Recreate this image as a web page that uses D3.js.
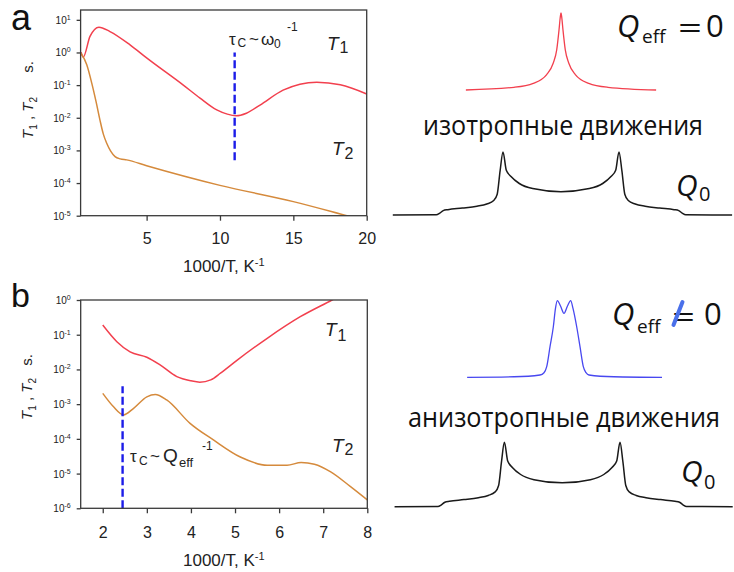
<!DOCTYPE html>
<html>
<head>
<meta charset="utf-8">
<script src="https://cdn.jsdelivr.net/npm/d3@7"></script>
<style>
  body { margin: 0; background: #fff; }
  svg { display: block; }
</style>
</head>
<body>
<svg id="fig" width="734" height="572"></svg>
<script>
// ---- Panel a: relaxation times vs 1000/T (isotropic motion) ----
const aT1X = [0.53, 0.68, 1.14, 1.75, 2.5, 3.87, 5.0, 7.5, 8.64, 9.78, 10.5, 11.1, 11.8, 12.73, 14.3, 16.6, 18.2, 20];
const aT1  = [1.02, 0.72, 3.1, 5.97, 4.37, 1.71, 0.68, 0.1, 0.04, 0.0174, 0.0129, 0.0115, 0.0138, 0.0245, 0.07, 0.123, 0.102, 0.0537];
const aT2X = [0.53, 0.92, 1.26, 1.55, 1.82, 2.05, 2.28, 2.55, 2.85, 3.2, 3.64, 5, 10, 15, 18.65, 20];
const aT2  = [0.95, 0.42, 0.115, 0.0316, 0.0085, 0.00316, 0.00166, 0.00095, 0.000646, 0.00055, 0.000513, 0.000339, 8.5e-5, 2.7e-5, 1.0e-5, 6.9e-6];
const aXTicks = [5, 10, 15, 20];
const aYExp = [1, 0, -1, -2, -3, -4, -5];
const aMarkX = 11;
const aMarkY = [5e-4, 1];

// ---- Panel b: relaxation times vs 1000/T (anisotropic motion) ----
const bT1X = [2.0, 2.32, 2.62, 3.0, 3.3, 3.68, 4.0, 4.2, 4.45, 4.67, 5.05, 5.73, 6.48, 7.2, 7.5];
const bT1  = [0.19, 0.063, 0.032, 0.0224, 0.0135, 0.0062, 0.0047, 0.0043, 0.005, 0.0078, 0.0186, 0.079, 0.33, 1.0, 1.6];
const bT2X = [2.0, 2.24, 2.47, 2.7, 3.0, 3.19, 3.45, 3.98, 4.51, 5.12, 5.73, 6.18, 6.5, 6.8, 7.17, 7.62, 8.0];
const bT2  = [2.04e-3, 8.5e-4, 4.9e-4, 7.6e-4, 1.62e-3, 1.9e-3, 1.32e-3, 2.8e-4, 9.3e-5, 3.0e-5, 1.74e-5, 1.74e-5, 2.09e-5, 1.86e-5, 1.12e-5, 4.2e-6, 1.74e-6];
const bXTicks = [2, 3, 4, 5, 6, 7, 8];
const bYExp = [0, -1, -2, -3, -4, -5, -6];
const bMarkX = 2.45;
const bMarkY = [1e-6, 3.3e-3];

// ---- Line shapes (frequency offset in units of the horn splitting, relative intensity) ----
const isoFreq = [-1.64, -0.81, -0.478, -0.247, -0.133, -0.074, -0.034, -0.012, 0, 0.012, 0.034, 0.074, 0.133, 0.247, 0.478, 0.81, 1.64];
const isoAmp  = [0, 0.035, 0.087, 0.2, 0.35, 0.52, 0.78, 0.95, 1.0, 0.95, 0.78, 0.52, 0.35, 0.2, 0.087, 0.035, 0];

const anisoFreq = [-1.67, -0.862, -0.414, -0.345, -0.298, -0.241, -0.184, -0.147, -0.115, -0.06, 0, 0.06, 0.115, 0.155, 0.219, 0.276, 0.333, 0.38, 0.43, 0.86, 1.69];
const anisoAmp  = [0, 0.007, 0.03, 0.06, 0.14, 0.40, 0.66, 0.9, 1.0, 0.93, 0.835, 0.93, 1.0, 0.9, 0.66, 0.40, 0.14, 0.06, 0.03, 0.007, 0];

const pakeFreq = [-2.9, -2.15, -2.09, -2.03, -1.95, -1.7, -1.45, -1.28, -1.16, -1.1, -1.05, -1.0, -0.943, -0.862, -0.719, -0.488, 0,
                  0.488, 0.719, 0.862, 0.943, 1.0, 1.05, 1.1, 1.16, 1.28, 1.45, 1.7, 1.95, 2.03, 2.09, 2.15, 2.95];
const pakeAmp  = [0, 0.003, 0.03, 0.07, 0.085, 0.11, 0.14, 0.175, 0.23, 0.33, 0.7, 1.0, 0.71, 0.61, 0.5, 0.42, 0.37,
                  0.42, 0.5, 0.61, 0.71, 1.0, 0.7, 0.33, 0.23, 0.175, 0.14, 0.11, 0.085, 0.07, 0.03, 0.003, 0];

const RED = "#f2404e", ORANGE = "#d58a3c", DASH_BLUE = "#1c1ce8", SPEC_BLUE = "#4848f0", INK = "#1a1a1a";
const AXIS_FONT = "'Liberation Sans', Arial, sans-serif";
const LABEL_FONT = "'Open Sans', 'Noto Sans', sans-serif";

const svg = d3.select("#fig");
const zip = (xs, ys) => xs.map((x, i) => [x, ys[i]]);

function drawPanel(cfg) {
  const x = d3.scaleLinear().domain(cfg.xDomain).range([cfg.left, cfg.right]);
  const y = d3.scaleLog().domain(cfg.yDomain).range([cfg.bottom, cfg.top]);
  const g = svg.append("g");

  const clipId = "clip-" + cfg.name;
  svg.append("clipPath").attr("id", clipId)
    .append("rect").attr("x", cfg.left).attr("y", cfg.top)
    .attr("width", cfg.right - cfg.left).attr("height", cfg.bottom - cfg.top);

  const line = d3.line().x(d => x(d[0])).y(d => y(d[1])).curve(d3.curveMonotoneX);
  const plot = g.append("g").attr("clip-path", `url(#${clipId})`);
  plot.append("path").datum(zip(cfg.t1x, cfg.t1)).attr("d", line)
    .attr("fill", "none").attr("stroke", RED).attr("stroke-width", 1.5);
  plot.append("path").datum(zip(cfg.t2x, cfg.t2)).attr("d", line)
    .attr("fill", "none").attr("stroke", ORANGE).attr("stroke-width", 1.5);

  // correlation-time marker
  g.append("line")
    .attr("x1", x(cfg.markX)).attr("x2", x(cfg.markX))
    .attr("y1", y(cfg.markY[0])).attr("y2", y(cfg.markY[1]))
    .attr("stroke", DASH_BLUE).attr("stroke-width", 2.4).attr("stroke-dasharray", "8,3.5");

  // frame
  g.append("rect").attr("x", cfg.left).attr("y", cfg.top)
    .attr("width", cfg.right - cfg.left).attr("height", cfg.bottom - cfg.top)
    .attr("fill", "none").attr("stroke", "#3a3a3a").attr("stroke-width", 1.3);

  const xAxis = g.append("g").attr("transform", `translate(0,${cfg.bottom})`)
    .call(d3.axisBottom(x).tickValues(cfg.xTicks).tickSize(5).tickSizeOuter(0).tickFormat(d3.format("d")));
  xAxis.select(".domain").remove();
  xAxis.selectAll(".tick line").attr("stroke", "#3a3a3a").attr("stroke-width", 1.3);
  xAxis.selectAll(".tick text").attr("y", cfg.tickLabelDy).attr("dy", 0)
    .attr("font-family", AXIS_FONT).attr("font-size", 16).attr("fill", "#222");

  const yAxis = g.append("g").attr("transform", `translate(${cfg.left},0)`)
    .call(d3.axisLeft(y).tickValues(cfg.yExp.map(e => Math.pow(10, e))).tickSize(4).tickSizeOuter(0).tickFormat(""));
  yAxis.select(".domain").remove();
  yAxis.selectAll(".tick line").attr("stroke", "#3a3a3a").attr("stroke-width", 1.3);
  yAxis.selectAll(".tick text").each(function (d) {
    const t = d3.select(this).attr("x", -10).attr("dy", "0.35em")
      .attr("font-family", AXIS_FONT).attr("font-size", 10).attr("fill", "#222").attr("text-anchor", "end");
    t.append("tspan").text("10");
    t.append("tspan").attr("dy", -4).attr("font-size", 7).text(String(Math.round(Math.log10(d))));
  });

  // x-axis title
  const xt = g.append("text").attr("x", 183).attr("y", cfg.bottom + cfg.titleDy)
    .attr("font-family", AXIS_FONT).attr("font-size", 17).attr("fill", "#222");
  xt.append("tspan").text("1000/T, K");
  xt.append("tspan").attr("dy", -6).attr("font-size", 11).text("-1");

  // y-axis title (rotated)
  const yt = g.append("text")
    .attr("transform", `translate(${cfg.yTitleX},${cfg.yTitleMid}) rotate(-90)`)
    .attr("text-anchor", "middle").attr("font-family", AXIS_FONT).attr("font-size", 15).attr("fill", "#222");
  yt.append("tspan").attr("font-style", "italic").text("T");
  yt.append("tspan").attr("font-size", 10).attr("dy", 4).text("1");
  yt.append("tspan").attr("dy", -4).text(" , ");
  yt.append("tspan").attr("font-style", "italic").text("T");
  yt.append("tspan").attr("font-size", 10).attr("dy", 4).text("2");
  g.append("text")
    .attr("transform", `translate(${cfg.yTitleX},${cfg.yUnitMid}) rotate(-90)`)
    .attr("text-anchor", "middle").attr("font-family", AXIS_FONT).attr("font-size", 15).attr("fill", "#222")
    .text("s.");

  // series names
  [[cfg.t1Label, "1"], [cfg.t2Label, "2"]].forEach(([p, s]) => {
    const t = g.append("text").attr("x", p[0]).attr("y", p[1])
      .attr("font-family", AXIS_FONT).attr("font-size", 19).attr("fill", "#222");
    t.append("tspan").attr("font-style", "italic").text("T");
    t.append("tspan").attr("font-size", 16).attr("dy", p[2]).attr("dx", 1).text(s);
  });

  // panel letter
  svg.append("text").attr("x", cfg.letter[0]).attr("y", cfg.letter[1])
    .attr("font-family", AXIS_FONT).attr("font-size", cfg.letter[2]).attr("fill", "#111").text(cfg.name);
  return g;
}

const ga = drawPanel({
  name: "a", left: 80.6, right: 366.7, top: 10, bottom: 215.7,
  xDomain: [0.5, 20], yDomain: [1e-5, 20],
  t1x: aT1X, t1: aT1, t2x: aT2X, t2: aT2,
  xTicks: aXTicks, yExp: aYExp, markX: aMarkX, markY: aMarkY,
  tickLabelDy: 28, titleDy: 56,
  yTitleX: 33, yTitleMid: 118, yUnitMid: 67,
  t1Label: [327, 50, 3], t2Label: [332, 155, 4],
  letter: [11, 30, 36]
});
const gaText = ga.append("text").attr("font-family", AXIS_FONT).attr("font-size", 17).attr("fill", "#222");
gaText.append("tspan").attr("x", 229).attr("y", 45).text("τ");
gaText.append("tspan").attr("x", 237.5).attr("y", 47).attr("font-size", 12).text("C");
gaText.append("tspan").attr("x", 249).attr("y", 45).text("~");
gaText.append("tspan").attr("x", 261).attr("y", 45).text("ω");
gaText.append("tspan").attr("x", 274).attr("y", 48).attr("font-size", 12).text("0");
gaText.append("tspan").attr("x", 287).attr("y", 31).attr("font-size", 12).text("-1");

const gb = drawPanel({
  name: "b", left: 80.7, right: 367.3, top: 300, bottom: 508.3,
  xDomain: [1.5, 8], yDomain: [1e-6, 1],
  t1x: bT1X, t1: bT1, t2x: bT2X, t2: bT2,
  xTicks: bXTicks, yExp: bYExp, markX: bMarkX, markY: bMarkY,
  tickLabelDy: 29.5, titleDy: 58,
  yTitleX: 32, yTitleMid: 399, yUnitMid: 360,
  t1Label: [325, 336, 5], t2Label: [332, 452, 3],
  letter: [11, 307, 34]
});
const gbText = gb.append("text").attr("font-family", AXIS_FONT).attr("font-size", 17).attr("fill", "#222");
gbText.append("tspan").attr("x", 130).attr("y", 462).text("τ");
gbText.append("tspan").attr("x", 139).attr("y", 465).attr("font-size", 12).text("C");
gbText.append("tspan").attr("x", 150).attr("y", 462).text("~");
gbText.append("tspan").attr("x", 163).attr("y", 462).attr("font-size", 19).text("Q");
gbText.append("tspan").attr("x", 179).attr("y", 467).attr("font-size", 13).text("eff");
gbText.append("tspan").attr("x", 202).attr("y", 450).attr("font-size", 12).text("-1");

// ---- NMR line shapes ----
function drawSpectrum(freq, amp, center, unitPx, baseline, top, color, width) {
  const fx = d3.scaleLinear().domain([0, 1]).range([center, center + unitPx]);
  const fy = d3.scaleLinear().domain([0, 1]).range([baseline, top]);
  const line = d3.line().x(d => fx(d[0])).y(d => fy(d[1])).curve(d3.curveMonotoneX);
  svg.append("path").datum(zip(freq, amp)).attr("d", line)
    .attr("fill", "none").attr("stroke", color).attr("stroke-width", width).attr("stroke-linejoin", "round");
}
drawSpectrum(isoFreq, isoAmp, 561, 58, 90, 13, RED, 1.3);
drawSpectrum(pakeFreq, pakeAmp, 561, 58, 215, 152, INK, 1.5);
drawSpectrum(anisoFreq, anisoAmp, 564, 58, 377.3, 300.7, SPEC_BLUE, 1.3);
drawSpectrum(pakeFreq, pakeAmp, 562.2, 57.8, 506.7, 442.3, INK, 1.5);

// ---- Right-hand annotations ----
function qLabel(x, y, subX, subY, size, subSize, sub) {
  const t = svg.append("text").attr("font-family", LABEL_FONT).attr("fill", "#111");
  t.append("tspan").attr("x", x).attr("y", y).attr("font-size", size).attr("font-style", "italic").text("Q");
  t.append("tspan").attr("x", subX).attr("y", subY).attr("font-size", subSize).text(sub);
  return t;
}
qLabel(617, 37, 642, 43, 31, 19, "eff");
svg.append("text").attr("x", 678).attr("y", 39).attr("font-family", LABEL_FONT).attr("font-size", 31)
  .attr("textLength", 24).attr("lengthAdjust", "spacingAndGlyphs").attr("fill", "#111").text("=");
svg.append("text").attr("x", 706).attr("y", 37).attr("font-family", LABEL_FONT).attr("font-size", 31).attr("fill", "#111").text("0");

qLabel(612, 325, 637, 333, 31, 19, "eff");
svg.append("text").attr("x", 672).attr("y", 328).attr("font-family", LABEL_FONT).attr("font-size", 31)
  .attr("textLength", 23).attr("lengthAdjust", "spacingAndGlyphs").attr("fill", "#111").text("=");
svg.append("line").attr("x1", 673.5).attr("y1", 325).attr("x2", 682.5).attr("y2", 302)
  .attr("stroke", "#4a70ea").attr("stroke-width", 4).attr("stroke-linecap", "round");
svg.append("text").attr("x", 704).attr("y", 325).attr("font-family", LABEL_FONT).attr("font-size", 31).attr("fill", "#111").text("0");

qLabel(676, 196, 699, 201, 30, 20, "0");
qLabel(681, 482, 704, 489, 30, 20, "0");

svg.append("text").attr("x", 423).attr("y", 135).attr("font-family", LABEL_FONT).attr("font-size", 27)
  .attr("textLength", 280).attr("lengthAdjust", "spacingAndGlyphs").attr("fill", "#111").text("изотропные движения");
svg.append("text").attr("x", 408).attr("y", 426.7).attr("font-family", LABEL_FONT).attr("font-size", 27)
  .attr("textLength", 312).attr("lengthAdjust", "spacingAndGlyphs").attr("fill", "#111").text("анизотропные движения");
</script>
</body>
</html>
